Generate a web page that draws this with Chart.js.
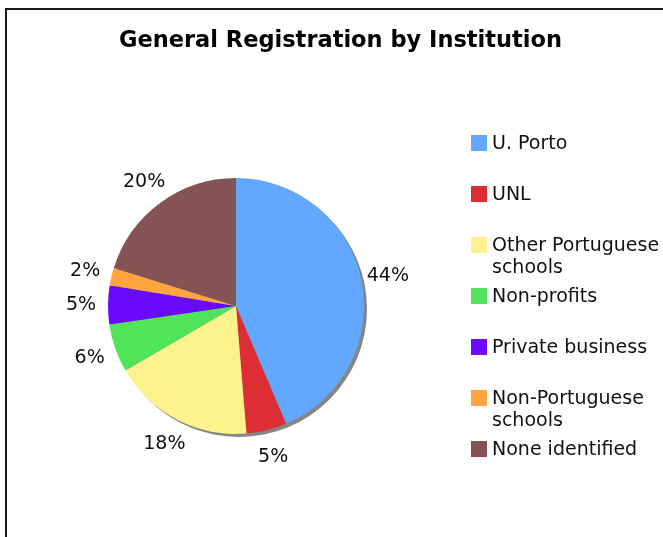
<!DOCTYPE html>
<html><head><meta charset="utf-8">
<script src="https://cdn.jsdelivr.net/npm/chart.js@4/dist/chart.umd.min.js"></script>
<style>html,body{margin:0;padding:0;background:#fff;overflow:hidden}</style>
</head><body><canvas id="c" width="663" height="537" style="display:block;width:663px;height:537px"></canvas>
<script>
const chartTitle = 'General Registration by Institution';
const categories = ['U. Porto', 'UNL', 'Other Portuguese schools', 'Non-profits', 'Private business', 'Non-Portuguese schools', 'None identified'];
const legendLines = [['U. Porto'], ['UNL'], ['Other Portuguese', 'schools'], ['Non-profits'], ['Private business'], ['Non-Portuguese', 'schools'], ['None identified']];
const shares = [43.6, 5.1, 17.9, 6.1, 4.9, 2.2, 20.2];
const sliceColors = ['#62A8FE', '#DD2E35', '#FEF28D', '#4FE459', '#6A0BFE', '#FEA540', '#855355'];

const FONT = '"DejaVu Sans", Verdana, sans-serif';

const framePlugin = {
  id: 'frameTitle',
  beforeDraw(chart) {
    const ctx = chart.ctx;
    ctx.save();
    ctx.fillStyle = '#fff';
    ctx.fillRect(0, 0, chart.width, chart.height);
    ctx.strokeStyle = '#1a1a1a';
    ctx.lineWidth = 2;
    ctx.strokeRect(6, 9, chart.width + 20, chart.height + 20);
    ctx.fillStyle = '#000';
    ctx.font = 'bold 22.5px ' + FONT;
    ctx.textAlign = 'center';
    ctx.textBaseline = 'alphabetic';
    ctx.fillText(chartTitle, 340.5, 47);
    ctx.restore();
  }
};

const shadowPlugin = {
  id: 'pieShadow',
  beforeDatasetsDraw(chart) {
    const meta = chart.getDatasetMeta(0);
    if (!meta.data.length) return;
    const p = meta.data[0].getProps(['x', 'y', 'outerRadius'], true);
    const ctx = chart.ctx;
    ctx.save();
    ctx.fillStyle = '#858585';
    ctx.beginPath();
    ctx.arc(p.x + 3, p.y + 3, p.outerRadius, 0, Math.PI * 2);
    ctx.fill();
    ctx.restore();
  }
};

const labelPlugin = {
  id: 'pctLabels',
  afterDatasetsDraw(chart) {
    const meta = chart.getDatasetMeta(0);
    const ctx = chart.ctx;
    ctx.save();
    ctx.fillStyle = '#111';
    ctx.font = '19px ' + FONT;
    ctx.textAlign = 'center';
    ctx.textBaseline = 'middle';
    meta.data.forEach((arc, i) => {
      const p = arc.getProps(['x', 'y', 'startAngle', 'endAngle', 'outerRadius'], true);
      const mid = (p.startAngle + p.endAngle) / 2;
      const d = p.outerRadius + 27;
      ctx.fillText(Math.round(shares[i]) + '%', p.x + Math.cos(mid) * d, p.y + Math.sin(mid) * d + 1);
    });
    ctx.restore();
  }
};

const legendPlugin = {
  id: 'sideLegend',
  afterDraw(chart) {
    const ctx = chart.ctx;
    ctx.save();
    ctx.font = '19px ' + FONT;
    ctx.textAlign = 'left';
    ctx.textBaseline = 'middle';
    const x0 = 471, y0 = 143, step = 51, lh = 22.5;
    categories.forEach((c, i) => {
      const y = y0 + i * step;
      ctx.fillStyle = sliceColors[i];
      ctx.fillRect(x0, y - 8, 16, 16);
      ctx.fillStyle = '#111';
      legendLines[i].forEach((line, k) => ctx.fillText(line, x0 + 21, y + 1 + k * lh));
    });
    ctx.restore();
  }
};

new Chart(document.getElementById('c'), {
  type: 'pie',
  data: {
    labels: categories,
    datasets: [{
      data: shares,
      backgroundColor: sliceColors,
      borderWidth: 0,
      hoverOffset: 0,
      radius: 128
    }]
  },
  options: {
    responsive: false,
    animation: false,
    layout: { padding: { left: 108, right: 299, top: 178, bottom: 103 } },
    plugins: { legend: { display: false }, tooltip: { enabled: false }, title: { display: false } }
  },
  plugins: [framePlugin, shadowPlugin, labelPlugin, legendPlugin]
});
</script>
</body></html>
